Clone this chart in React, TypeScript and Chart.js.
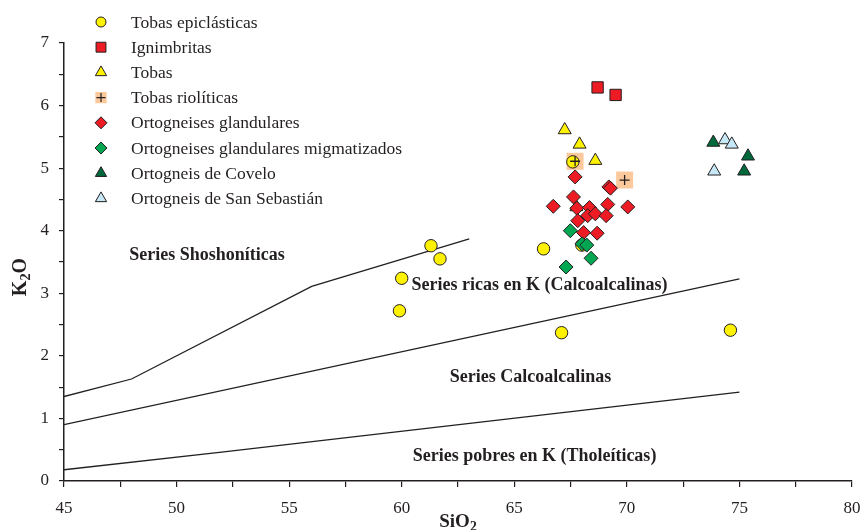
import React, { useEffect, useRef } from 'react';
import { Chart, registerables } from 'chart.js';
import { drawPoint } from 'chart.js/helpers';

Chart.register(...registerables);

// SiO2 (wt%) / K2O (wt%) per sample group
const tobasEpiclasticasSiO2 = [61.3, 61.7, 60.0, 59.9, 66.3, 67.1, 74.6, 67.6, 68.0];
const tobasEpiclasticasK2O = [3.76, 3.55, 3.24, 2.72, 3.71, 2.37, 2.41, 5.10, 3.77];

const ignimbritasSiO2 = [68.7, 69.5];
const ignimbritasK2O = [6.29, 6.17];

const tobasSiO2 = [67.24, 67.9, 68.6, 67.76];
const tobasK2O = [5.61, 5.38, 5.12, 4.38];

const tobasRioliticasSiO2 = [67.7, 69.9];
const tobasRioliticasK2O = [5.11, 4.81];

const ortoGlandSiO2 = [67.7, 69.2, 69.27, 67.63, 66.73, 67.78, 68.34, 69.15, 70.04, 68.26, 68.6, 69.08, 67.82, 68.08, 68.68];
const ortoGlandK2O = [4.86, 4.70, 4.68, 4.54, 4.39, 4.36, 4.37, 4.42, 4.38, 4.24, 4.27, 4.24, 4.16, 3.97, 3.96];

const ortoMigmSiO2 = [67.49, 68.01, 68.22, 68.41, 67.30];
const ortoMigmK2O = [4.00, 3.79, 3.77, 3.56, 3.42];

const coveloSiO2 = [73.84, 75.38, 75.21];
const coveloK2O = [5.41, 5.19, 4.95];

const sanSebastianSiO2 = [74.36, 74.66, 73.88];
const sanSebastianK2O = [5.45, 5.38, 4.95];

// Series boundary lines
const shoshoniticBoundarySiO2 = [45, 48, 56, 63];
const shoshoniticBoundaryK2O = [1.35, 1.63, 3.11, 3.87];
const highKBoundarySiO2 = [45, 75];
const highKBoundaryK2O = [0.9, 3.23];
const lowKBoundarySiO2 = [45, 52, 75];
const lowKBoundaryK2O = [0.18, 0.46, 1.42];

// Field names and their anchor points (SiO2, K2O)
const fieldLabels = [
  'Series Shoshoníticas',
  'Series ricas en K (Calcoalcalinas)',
  'Series Calcoalcalinas',
  'Series pobres en K (Tholeíticas)',
];
const fieldLabelSiO2 = [51.35, 66.12, 65.72, 65.9];
const fieldLabelK2O = [3.61, 3.12, 1.65, 0.4];

const xTickLabels = [45, 50, 55, 60, 65, 70, 75, 80];
const yTickLabels = [0, 1, 2, 3, 4, 5, 6, 7];

const INK = '#231f20';
const SERIF = '"Liberation Serif", "Times New Roman", serif';

const pts = (xs: number[], ys: number[]) => xs.map((x, i) => ({ x, y: ys[i] }));

type Group = {
  label: string;
  xs: number[];
  ys: number[];
  style: string;
  radius: number;
  fill: string;
  border: string;
  borderWidth: number;
  order: number;
  legendRadius: number;
};

const groups: Group[] = [
  { label: 'Tobas epiclásticas', xs: tobasEpiclasticasSiO2, ys: tobasEpiclasticasK2O, style: 'circle', radius: 6.2, fill: '#fff200', border: INK, borderWidth: 1, order: 8, legendRadius: 5 },
  { label: 'Ignimbritas', xs: ignimbritasSiO2, ys: ignimbritasK2O, style: 'rect', radius: 8, fill: '#ed1c24', border: INK, borderWidth: 1, order: 6, legendRadius: 7 },
  { label: 'Tobas', xs: tobasSiO2, ys: tobasK2O, style: 'triangle', radius: 7.5, fill: '#fff200', border: INK, borderWidth: 1, order: 7, legendRadius: 6.5 },
  { label: 'Tobas riolíticas', xs: tobasRioliticasSiO2, ys: tobasRioliticasK2O, style: 'rect', radius: 12, fill: '#fbc99b', border: '#fbc99b', borderWidth: 0, order: 9, legendRadius: 8 },
  { label: 'Ortogneises glandulares', xs: ortoGlandSiO2, ys: ortoGlandK2O, style: 'rectRot', radius: 7, fill: '#ed1c24', border: INK, borderWidth: 1, order: 4, legendRadius: 6 },
  { label: 'Ortogneises glandulares migmatizados', xs: ortoMigmSiO2, ys: ortoMigmK2O, style: 'rectRot', radius: 7, fill: '#00a651', border: INK, borderWidth: 1, order: 3, legendRadius: 6 },
  { label: 'Ortogneis de Covelo', xs: coveloSiO2, ys: coveloK2O, style: 'triangle', radius: 7.5, fill: '#00693c', border: INK, borderWidth: 1, order: 2, legendRadius: 6.5 },
  { label: 'Ortogneis de San Sebastián', xs: sanSebastianSiO2, ys: sanSebastianK2O, style: 'triangle', radius: 7.5, fill: '#c6e7f6', border: INK, borderWidth: 1, order: 1, legendRadius: 6.5 },
];

// Draws bold text with subscript parts, centred on the current origin
function drawSubscripted(ctx: CanvasRenderingContext2D, parts: [string, boolean][], size: number) {
  let total = 0;
  const widths = parts.map(([t, sub]) => {
    ctx.font = `bold ${sub ? size * 0.72 : size}px ${SERIF}`;
    const w = ctx.measureText(t).width;
    total += w;
    return w;
  });
  let x = -total / 2;
  parts.forEach(([t, sub], i) => {
    ctx.font = `bold ${sub ? size * 0.72 : size}px ${SERIF}`;
    ctx.fillText(t, x, sub ? size * 0.28 : 0);
    x += widths[i];
  });
}

const overlayPlugin = {
  id: 'overlay',
  afterDatasetsDraw(chart: any) {
    const { ctx, scales } = chart;
    const xs = scales.x;
    const ys = scales.y;
    ctx.save();
    ctx.fillStyle = INK;

    // field names
    ctx.font = `bold 18px ${SERIF}`;
    ctx.textAlign = 'center';
    ctx.textBaseline = 'middle';
    fieldLabels.forEach((t, i) => {
      ctx.fillText(t, xs.getPixelForValue(fieldLabelSiO2[i]), ys.getPixelForValue(fieldLabelK2O[i]));
    });

    // axis titles
    ctx.textAlign = 'left';
    ctx.textBaseline = 'middle';
    ctx.save();
    ctx.translate(458, 522);
    drawSubscripted(ctx, [['SiO', false], ['2', true]], 19);
    ctx.restore();

    ctx.save();
    ctx.translate(21, 277);
    ctx.rotate(-Math.PI / 2);
    drawSubscripted(ctx, [['K', false], ['2', true], ['O', false]], 20);
    ctx.restore();

    // legend
    const lx = 101;
    const tx = 131;
    const y0 = 22;
    const dy = 25.2;
    groups.forEach((g, i) => {
      const y = y0 + i * dy;
      ctx.fillStyle = g.fill;
      ctx.strokeStyle = g.border;
      ctx.lineWidth = g.borderWidth;
      drawPoint(ctx, { pointStyle: g.style as any, radius: g.legendRadius, rotation: 0, borderWidth: g.borderWidth }, lx, y);
      if (g.label === 'Tobas riolíticas') {
        ctx.strokeStyle = INK;
        ctx.lineWidth = 1.2;
        drawPoint(ctx, { pointStyle: 'cross', radius: 4.5, rotation: 0, borderWidth: 1.2 }, lx, y);
      }
      ctx.fillStyle = INK;
      ctx.font = `17.5px ${SERIF}`;
      ctx.textAlign = 'left';
      ctx.textBaseline = 'middle';
      ctx.fillText(g.label, tx, y + 1);
    });
    ctx.restore();
  },
};

export default function App() {
  const ref = useRef<HTMLCanvasElement | null>(null);

  useEffect(() => {
    if (!ref.current) return;

    const lineDs = (xs: number[], ys: number[]) => ({
      type: 'scatter' as const,
      data: pts(xs, ys),
      showLine: true,
      borderColor: INK,
      borderWidth: 1.3,
      pointRadius: 0,
      fill: false,
      tension: 0,
      order: 100,
    });

    const pointSets: any[] = groups.map((g) => ({
      type: 'scatter' as const,
      label: g.label,
      data: pts(g.xs, g.ys),
      pointStyle: g.style,
      pointRadius: g.radius,
      pointHoverRadius: g.radius,
      backgroundColor: g.fill,
      borderColor: g.border,
      pointBorderWidth: g.borderWidth,
      borderWidth: g.borderWidth,
      order: g.order,
    }));

    // cross marks on the rhyolitic tuff squares
    pointSets.push({
      type: 'scatter' as const,
      label: 'Tobas riolíticas (cruz)',
      data: pts(tobasRioliticasSiO2, tobasRioliticasK2O),
      pointStyle: 'cross',
      pointRadius: 5,
      pointHoverRadius: 5,
      backgroundColor: INK,
      borderColor: INK,
      pointBorderWidth: 1.3,
      borderWidth: 1.3,
      order: 5,
    });

    const chart = new Chart(ref.current, {
      type: 'scatter',
      data: {
        datasets: [
          lineDs(shoshoniticBoundarySiO2, shoshoniticBoundaryK2O),
          lineDs(highKBoundarySiO2, highKBoundaryK2O),
          lineDs(lowKBoundarySiO2, lowKBoundaryK2O),
          ...pointSets,
        ],
      },
      options: {
        animation: false,
        responsive: false,
        layout: { padding: { left: 0, top: 43, right: 10, bottom: 0 } },
        plugins: { legend: { display: false }, tooltip: { enabled: false } },
        scales: {
          x: {
            type: 'linear',
            min: 45,
            max: 80,
            afterFit: (s: any) => {
              s.height = 49;
              s.paddingLeft = 0;
              s.paddingRight = 0;
            },
            ticks: {
              stepSize: 2.5,
              autoSkip: false,
              maxRotation: 0,
              color: INK,
              font: { family: SERIF, size: 17 },
              padding: 11,
              callback: (v: any) => (xTickLabels.includes(Number(v)) ? String(v) : ''),
            },
            grid: { drawOnChartArea: false, drawTicks: true, tickLength: 6, color: INK, lineWidth: 1.2 },
            border: { display: true, color: INK, width: 1.5 },
          },
          y: {
            type: 'linear',
            min: 0,
            max: 7,
            afterFit: (s: any) => {
              s.width = 64;
              s.paddingTop = 0;
              s.paddingBottom = 0;
            },
            ticks: {
              stepSize: 0.5,
              autoSkip: false,
              color: INK,
              font: { family: SERIF, size: 17 },
              padding: 10,
              callback: (v: any) => (yTickLabels.includes(Number(v)) ? String(v) : ''),
            },
            grid: { drawOnChartArea: false, drawTicks: true, tickLength: 5, color: INK, lineWidth: 1.2 },
            border: { display: true, color: INK, width: 1.5 },
          },
        },
      },
      plugins: [overlayPlugin],
    });

    return () => chart.destroy();
  }, []);

  return (
    <div style={{ position: 'absolute', left: 0, top: 0, width: 864, height: 530, background: '#fff' }}>
      <canvas ref={ref} width={864} height={530} />
    </div>
  );
}
